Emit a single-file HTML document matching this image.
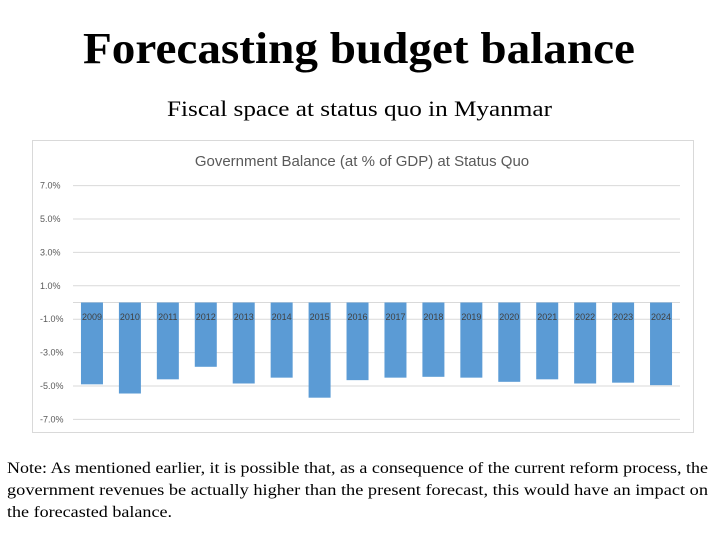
<!DOCTYPE html>
<html><head><meta charset="utf-8"><style>
body{margin:0;width:720px;height:540px;background:#fff;overflow:hidden;position:relative;font-family:"Liberation Serif",serif}
svg{position:absolute;left:0;top:0}
</style></head><body>
<svg id="chart" width="720" height="540">
<text x="83" y="63" textLength="552" lengthAdjust="spacingAndGlyphs" font-family="Liberation Serif, serif" font-weight="bold" font-size="44" fill="#000">Forecasting budget balance</text>
<text x="167" y="116" textLength="385" lengthAdjust="spacingAndGlyphs" font-family="Liberation Serif, serif" font-size="22" fill="#000">Fiscal space at status quo in Myanmar</text>
<rect x="32.5" y="140.5" width="661" height="292" fill="#fff" stroke="#d9d9d9"/>
<text x="362" y="166" text-anchor="middle" font-family="Liberation Sans, sans-serif" font-size="15" fill="#595959">Government Balance (at % of GDP) at Status Quo</text>
<g id="grid"></g><g id="bars"></g><g id="labels"></g>
<g font-family="Liberation Serif, serif" font-size="16" fill="#000">
<text x="7" y="473" textLength="701" lengthAdjust="spacingAndGlyphs">Note: As mentioned earlier, it is possible that, as a consequence of the current reform process, the</text>
<text x="7" y="495" textLength="701" lengthAdjust="spacingAndGlyphs">government revenues be actually higher than the present forecast, this would have an impact on</text>
<text x="7" y="517" textLength="165" lengthAdjust="spacingAndGlyphs">the forecasted balance.</text>
</g>
</svg>
<script>
const years=["2009","2010","2011","2012","2013","2014","2015","2016","2017","2018","2019","2020","2021","2022","2023","2024"];
const balance=[-4.9,-5.45,-4.6,-3.85,-4.85,-4.5,-5.7,-4.65,-4.5,-4.45,-4.5,-4.75,-4.6,-4.85,-4.8,-4.95];
const ticks=[7,5,3,1,-1,-3,-5,-7];
const tickLabels=["7.0%","5.0%","3.0%","1.0%","-1.0%","-3.0%","-5.0%","-7.0%"];
const NS="http://www.w3.org/2000/svg";
const x0=73,x1=680,yZero=302.5,pxPer=16.7;
const y=v=>yZero-v*pxPer;
const band=(x1-x0)/years.length;
const xc=i=>x0+band*(i+0.5);
const grid=document.getElementById('grid'),bars=document.getElementById('bars'),labels=document.getElementById('labels');
function mk(tag,attrs,parent){const e=document.createElementNS(NS,tag);for(const k in attrs)e.setAttribute(k,attrs[k]);parent.appendChild(e);return e;}
ticks.forEach((t,i)=>{
  const l=mk('line',{x1:x0,x2:x1,y1:y(t),y2:y(t),stroke:'#d9d9d9','stroke-width':1},grid);
  
  
  const tx=mk('text',{x:40,y:y(t)+3,'font-family':'Liberation Sans, sans-serif','font-size':9,fill:'#595959'},grid);
  tx.textContent=tickLabels[i];
  
  
});
const zl=mk('line',{x1:x0,x2:x1,y1:yZero,y2:yZero,stroke:'#d9d9d9'},grid);


years.forEach((yr,i)=>{
  const v=balance[i];
  const r=mk('rect',{x:xc(i)-11,width:22,y:Math.min(y(v),yZero),height:Math.abs(y(v)-yZero),fill:'#5b9bd5'},bars);
  
  
  const tx=mk('text',{x:xc(i),y:320,'text-anchor':'middle','font-family':'Liberation Sans, sans-serif','font-size':9,fill:'#404040'},labels);
  tx.textContent=yr;
  
  
});
</script>
</body></html>
